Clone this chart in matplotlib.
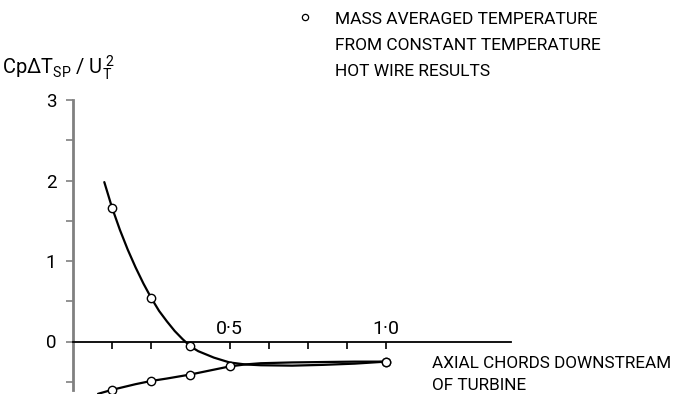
import matplotlib
matplotlib.use("Agg")
import matplotlib.pyplot as plt

# narrow-ish lettering close to the plotter font of the original
FONT = "Roboto"
plt.rcParams["font.family"] = [FONT, "DejaVu Sans"]
plt.rcParams["mathtext.fontset"] = "custom"
plt.rcParams["mathtext.rm"] = FONT
plt.rcParams["mathtext.it"] = FONT

# curves (axial chords, Cp dT / Ut^2)
upper_x = [0.10, 0.125, 0.15, 0.175, 0.20, 0.225, 0.25, 0.275, 0.30, 0.325,
           0.35, 0.375, 0.40, 0.45, 0.50, 0.55, 0.60, 0.70, 0.80, 0.90, 1.0]
upper_y = [1.98, 1.66, 1.385, 1.14, 0.92, 0.72, 0.54, 0.38, 0.25, 0.13,
           0.03, -0.06, -0.12, -0.20, -0.26, -0.285, -0.295, -0.30, -0.29, -0.275, -0.25]

lower_x = [0.08, 0.125, 0.20, 0.25, 0.30, 0.375, 0.45, 0.50, 0.55, 0.60, 0.70, 0.80, 0.90, 1.0]
lower_y = [-0.65, -0.60, -0.53, -0.49, -0.46, -0.41, -0.35, -0.31, -0.285, -0.27, -0.26, -0.255, -0.25, -0.25]

# measured points (open circles)
upper_pts_x = [0.125, 0.25, 0.375, 1.0]
upper_pts_y = [1.66, 0.545, -0.06, -0.25]
lower_pts_x = [0.125, 0.25, 0.375, 0.5, 1.0]
lower_pts_y = [-0.60, -0.49, -0.41, -0.31, -0.25]

x_ticks = [0.125, 0.25, 0.375, 0.5, 0.625, 0.75, 0.875, 1.0]
x_labels = {0.5: "0·5", 1.0: "1·0"}
y_ticks = [0, 1, 2, 3]
y_minor = [-0.5, 0.5, 1.5, 2.5]

legend_lines = ["MASS AVERAGED TEMPERATURE",
                "FROM CONSTANT TEMPERATURE",
                "HOT WIRE RESULTS"]

W, H = 675, 394
X0, XS = 73, 313.0      # pixel of x=0, pixels per chord
Y0, YS = 341.5, 80.5    # pixel of y=0, pixels per unit

fig = plt.figure(figsize=(W / 100, H / 100), dpi=100)
ax = fig.add_axes([0, 0, 1, 1])
ax.set_xlim(-X0 / XS, (W - X0) / XS)
ax.set_ylim((Y0 - H) / YS, Y0 / YS)
ax.patch.set_visible(False)

ax.spines["top"].set_visible(False)
ax.spines["right"].set_visible(False)
ax.spines["left"].set_position(("data", 0))
ax.spines["bottom"].set_position(("data", 0))
ax.spines["left"].set_bounds(-0.6, 3)
ax.spines["bottom"].set_bounds(0, 1.4)
ax.spines["left"].set_color("#808080")
ax.spines["left"].set_linewidth(2.0)
ax.spines["bottom"].set_linewidth(1.3)

ax.set_yticks(y_ticks)
ax.set_yticks(y_minor, minor=True)
ax.set_yticklabels([str(v) for v in y_ticks], fontsize=13.5)
ax.tick_params(axis="y", which="both", direction="out", length=5, width=1.2,
               color="#808080", pad=7)

ax.set_xticks(x_ticks)
ax.set_xticklabels([])
ax.tick_params(axis="x", direction="out", length=5, width=1.2, color="black")
for xv, lab in x_labels.items():
    ax.annotate(lab, (xv, 0), xytext=(0, 4), textcoords="offset pixels",
                ha="center", va="bottom", fontsize=14)

ax.plot(upper_x, upper_y, color="black", lw=1.6, solid_capstyle="round")
ax.plot(lower_x, lower_y, color="black", lw=1.6, solid_capstyle="round")
ax.plot(upper_pts_x, upper_pts_y, "o", ms=6, mfc="white", mec="black", mew=1.0)
ax.plot(lower_pts_x, lower_pts_y, "o", ms=6, mfc="white", mec="black", mew=1.0)


def fx(px):
    return px / W


def fy(py):
    return 1 - py / H


# legend
fig.lines.append(plt.Line2D([fx(305)], [fy(17)], marker="o", ms=4.5, mfc="white",
                            mec="black", mew=0.9, transform=fig.transFigure))
for i, line in enumerate(legend_lines):
    fig.text(fx(335), fy(20 + 26 * i), line, fontsize=12.5, ha="left", va="center")

# axis labels
fig.text(fx(2), fy(68), r"CpΔT$_{\mathrm{SP}}$ / U$_{\mathrm{T}}^{\;2}$",
         fontsize=14.5, ha="left", va="center")
fig.text(fx(432), fy(363), "AXIAL CHORDS DOWNSTREAM", fontsize=12.3, ha="left", va="center")
fig.text(fx(432), fy(385), "OF TURBINE", fontsize=12.3, ha="left", va="center")

fig.savefig("out.png", dpi=100)
